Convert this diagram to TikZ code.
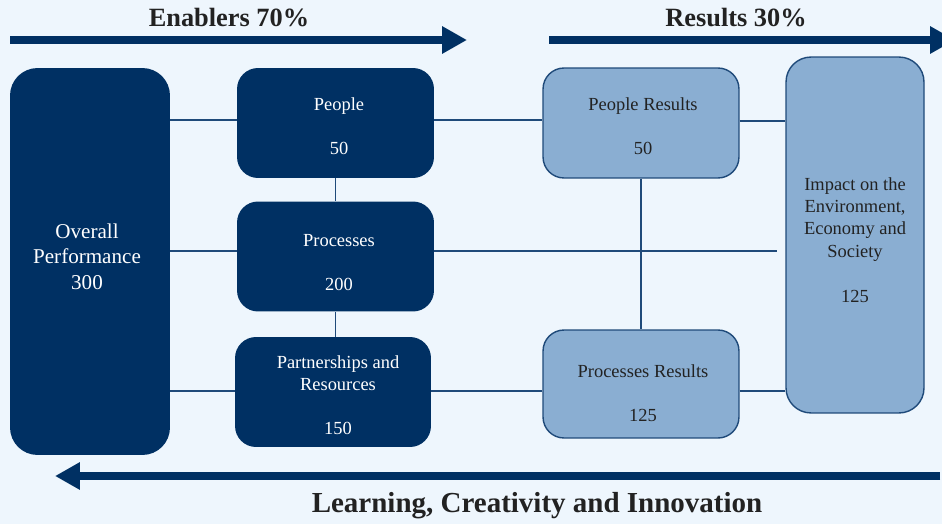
\documentclass[tikz,border=0pt]{standalone}
\usepackage{fontspec}
\setmainfont{Liberation Serif}
\usetikzlibrary{arrows.meta}
\definecolor{efqmnavy}{HTML}{003063}
\definecolor{efqmlight}{HTML}{8AAED2}
\definecolor{efqmline}{HTML}{1F4A7A}
\definecolor{efqmback}{HTML}{EEF6FD}
\definecolor{efqmtext}{HTML}{222222}

\tikzset{
  enabler/.style={rectangle, rounded corners=0.42cm, fill=efqmnavy,
    inner sep=0pt, minimum width=3.94cm, minimum height=2.2cm},
  result/.style={enabler, fill=efqmlight, draw=efqmline, line width=0.8pt},
  boxtext/.style={align=center, inner sep=0pt, text=white, font=\fontsize{10.5}{12.6}\selectfont},
  restext/.style={boxtext, text=efqmtext},
  link/.style={draw=efqmline, line width=0.8pt},
  bigarrow/.style={draw=efqmnavy, line width=4pt, -{Triangle[length=0.5cm,width=0.52cm]}},
  heading/.style={font=\fontsize{15}{18}\selectfont\bfseries, text=efqmtext},
}

\begin{document}
\begin{tikzpicture}[x=0.02cm,y=-0.02cm]
% Background
\fill[efqmback] (0,0) rectangle (942,524);
\useasboundingbox (0,0) rectangle (942,524);

% Enablers
\node[enabler, rounded corners=0.55cm, minimum width=3.2cm, minimum height=7.74cm] (overall) at (90,261.5) {};
\node[enabler] (people) at (335.5,123) {};
\node[enabler] (proc) at (335.5,256.5) {};
\node[enabler, minimum width=3.92cm] (partner) at (333,392) {};

% Results
\node[result, minimum width=3.92cm] (pres) at (641,123) {};
\node[result, minimum width=3.92cm, minimum height=2.16cm] (prres) at (641,384) {};
\node[result, rounded corners=0.5cm, minimum width=2.76cm, minimum height=7.12cm] (impact) at (855,235) {};

% Box texts
\node[boxtext, font=\fontsize{12}{14.5}\selectfont] (overalltext) at ([xshift=-0.06cm,yshift=0.1cm]overall) {Overall\\Performance\\300};
\node[boxtext] (peopletext) at ([xshift=0.07cm,yshift=-0.06cm]people) {People\\[12.5pt]50};
\node[boxtext] (proctext) at ([xshift=0.07cm,yshift=-0.12cm]proc) {Processes\\[12.5pt]200};
\node[boxtext] (partnertext) at ([xshift=0.1cm,yshift=-0.07cm]partner) {Partnerships and\\Resources\\[12.5pt]150};
\node[restext] (prestext) at ([xshift=0.04cm,yshift=-0.06cm]pres) {People Results\\[12.5pt]50};
\node[restext] (prrestext) at ([xshift=0.04cm,yshift=-0.18cm]prres) {Processes Results\\[12.5pt]125};
\node[restext] (impacttext) at ([yshift=-0.1cm]impact) {Impact on the\\Environment,\\Economy and\\Society\\[13pt]125};

% Connectors
\coordinate (procend) at (777,251);
\draw[link] (overall.east |- 0,120) -- (people.west |- 0,120);
\draw[link] (people.east |- 0,120) -- (pres.west |- 0,120);
\draw[link] (pres.east |- 0,121) -- (impact.west |- 0,121);
\draw[link] (overall.east |- procend) -- (proc.west |- procend);
\draw[link] (proc.east |- procend) -- (procend);
\draw[link] (overall.east |- 0,391) -- (partner.west |- 0,391);
\draw[link] (partner.east |- 0,391) -- (prres.west |- 0,391);
\draw[link] (prres.east |- 0,391) -- (impact.west |- 0,391);
\draw[link] (people.south) -- (proc.north);
\draw[link] (proc.south) -- (proc.south |- partner.north);
\draw[link] (pres.south) -- (prres.north);

% Big arrows
\coordinate (enstart) at (10,40);
\coordinate (enend) at (467,40);
\coordinate (resstart) at (549,40);
\coordinate (resend) at (955,40);
\coordinate (lcistart) at (940,476);
\coordinate (lciend) at (55,476);
\draw[bigarrow] (enstart) -- (enend);
\draw[bigarrow] (resstart) -- (resend);
\draw[bigarrow] (lcistart) -- (lciend);

% Titles
\node[heading] (entitle) at (229,18) {Enablers 70\%};
\node[heading] (restitle) at (736,18) {Results 30\%};
\node[heading, font=\fontsize{16.5}{19}\selectfont\bfseries] (lcititle) at (537,506) {Learning, Creativity and Innovation};
\end{tikzpicture}
\end{document}
